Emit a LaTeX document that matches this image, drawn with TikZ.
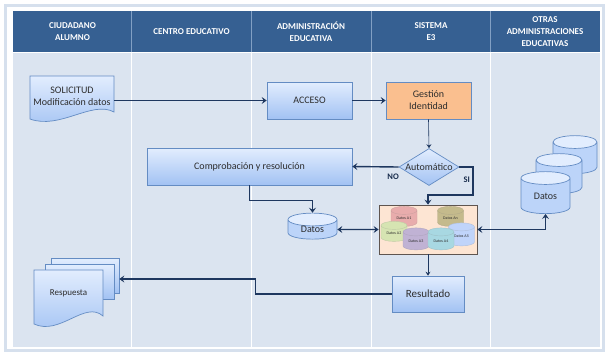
\documentclass[tikz,border=0pt]{standalone}
\usepackage{fontspec}
\setmainfont{Carlito}
\usetikzlibrary{shapes.geometric,arrows.meta}
\definecolor{headblue}{RGB}{54,96,146}
\definecolor{headline}{RGB}{130,160,196}
\definecolor{lanebg}{RGB}{219,228,240}
\definecolor{framecol}{RGB}{214,224,237}
\definecolor{lineblue}{RGB}{30,55,95}
\definecolor{edgeblue}{RGB}{100,140,195}
\definecolor{boxtop}{RGB}{226,237,254}
\definecolor{boxbot}{RGB}{162,194,243}
\definecolor{cylbody}{RGB}{188,212,249}
\definecolor{gestorange}{RGB}{250,191,143}
\definecolor{peach}{RGB}{253,229,211}
\definecolor{dbedge}{RGB}{95,85,80}
\definecolor{txtgray}{RGB}{45,45,45}
\definecolor{dbpink}{RGB}{232,172,172}
\definecolor{dbkhaki}{RGB}{196,186,140}
\definecolor{dbgreen}{RGB}{214,228,178}
\definecolor{dblila}{RGB}{192,178,212}
\definecolor{dbcyan}{RGB}{168,216,226}
\definecolor{dbblue}{RGB}{192,212,250}

\begin{document}
\begin{tikzpicture}[x=1pt,y=-1pt,
	>={Stealth[length=5pt,width=7pt,inset=2pt]},
	proc/.style={draw=edgeblue, line width=0.7pt, top color=boxtop, bottom color=boxbot, text=txtgray, align=center, font=\fontsize{10}{12}\selectfont, inner sep=0pt},
	doc/.style={draw=edgeblue, line width=0.7pt, top color=boxtop, bottom color=boxbot},
	txt/.style={text=txtgray, align=center, font=\fontsize{10}{12}\selectfont, inner sep=0pt},
	headtxt/.style={text=white, align=center, font=\fontsize{9}{12}\selectfont\bfseries},
	store/.style={cylinder, shape border rotate=90, aspect=0.55, draw=edgeblue, line width=0.7pt, cylinder uses custom fill, cylinder body fill=cylbody, cylinder end fill=boxtop, text=txtgray, font=\fontsize{10}{12}\selectfont, inner sep=0pt},
	minidb/.style={cylinder, shape border rotate=90, aspect=0.55, minimum width=26pt, minimum height=20pt, inner sep=0pt, draw=#1!75!gray, fill=#1, text=txtgray, font=\fontsize{4}{5}\selectfont},
	link/.style={draw=lineblue, line width=1.4pt, ->},
	thinlink/.style={draw=lineblue, line width=0.6pt, -{Stealth[length=4pt,width=5pt,inset=1.5pt]}},
	lbl/.style={text=lineblue!80!black, font=\fontsize{8.5}{10}\selectfont\bfseries}
]
	% marco y calles
	\fill[white] (0,0) rectangle (607,354);
	\draw[framecol, line width=3pt] (5.5,5.5) rectangle (603,350.5);
	\fill[headblue] (13,11) rectangle (600,52);
	\fill[lanebg] (13,52) rectangle (600,347);
	\draw[white, line width=1pt] (13,52.5) -- (600,52.5);
	\foreach \x in {131.5,251,371,490.5} {
		\draw[headline, line width=0.8pt] (\x,11) -- (\x,52);
		\draw[white, line width=1pt] (\x,53) -- (\x,347);
	}

	\node[headtxt] (h1) at (72.5,31.5) {CIUDADANO\\ALUMNO};
	\node[headtxt] (h2) at (191.5,31.5) {CENTRO EDUCATIVO};
	\node[headtxt] (h3) at (311,31.5) {ADMINISTRACIÓN\\EDUCATIVA};
	\node[headtxt] (h4) at (431,31.5) {SISTEMA\\E3};
	\node[headtxt] (h5) at (545,32) {OTRAS\\ADMINISTRACIONES\\EDUCATIVAS};

	% solicitud
	\draw[doc] (30,76) -- (114,76) -- (114,112) .. controls (92,100) and (60,130) .. (30,119) -- cycle;
	\node[txt, minimum width=84pt, minimum height=36pt] (sol) at (72,96) {SOLICITUD\\Modificación datos};

	\node[proc, minimum width=85pt, minimum height=37pt] (acc) at (309.5,100.5) {ACCESO};
	\node[proc, fill=gestorange, top color=gestorange, bottom color=gestorange, minimum width=85pt, minimum height=37pt] (gest) at (428.5,100.5) {Gestión\\Identidad};
	\node[proc, diamond, aspect=1.6, minimum width=60pt, minimum height=37pt] (auto) at (429,167) {Automático};
	\node[proc, minimum width=205pt, minimum height=37pt] (comp) at (249.5,166.5) {Comprobación y resolución};

	\node[store, minimum width=49pt, minimum height=25pt] (datos) at (312.5,229.5) {Datos};

	% almacen del sistema
	\node[draw=dbedge, line width=0.8pt, fill=peach, minimum width=98pt, minimum height=49pt] (dbbox) at (428,229.5) {};
	\node[minidb=dbpink] (a1) at (404,218.5) {Datos A1};
	\node[minidb=dbkhaki] (an) at (450.5,218.5) {Datos An};
	\node[minidb=dbgreen] (a2) at (394,233.5) {Datos A2};
	\node[minidb=dbblue, minimum height=23pt] (a5) at (461.5,236.5) {Datos A5};
	\node[minidb=dblila, minimum height=22pt] (a3) at (416,241) {Datos A3};
	\node[minidb=dbcyan, minimum height=22pt] (a4) at (441,241) {Datos A4};

	\node[proc, minimum width=72pt, minimum height=36pt, font=\fontsize{11}{13}\selectfont] (res) at (428,294) {Resultado};

	% otras administraciones
	\node[store, minimum width=44pt, minimum height=38pt] (dat3) at (575,158) {\phantom{Datos}};
	\node[store, minimum width=46pt, minimum height=40pt] (dat2) at (559,177) {\phantom{Datos}};
	\node[store, minimum width=49pt, minimum height=42pt] (dat1) at (545.5,196) {\raisebox{-3pt}{Datos}};

	% respuesta
	\node[proc, minimum width=68pt, minimum height=35pt] (resp3) at (85,275.5) {};
	\node[proc, minimum width=69pt, minimum height=35pt] (resp2) at (79.5,281.5) {};
	\draw[doc] (34,270) -- (103,270) -- (103,316) .. controls (85,300) and (60,336) .. (34,324) -- cycle;
	\node[txt, font=\fontsize{9}{11}\selectfont, minimum width=69pt, minimum height=40pt] (resp) at (68.5,293) {Respuesta};

	% flujo
	\draw[link] (sol.east |- acc.west) -- (acc.west);
	\draw[link] (acc.east) -- (gest.west);
	\draw[thinlink] (gest.south) -- (auto.north);
	\draw[link] (auto.west) -- node[lbl, pos=0.12, below=3pt] {NO} (comp.east);
	\coordinate (sibend) at (473,195);
	\draw[link] (auto.east) -| node[lbl, pos=0.72, left=-1pt] {SI} (sibend) -| (dbbox.north);
	\draw[link] (comp.south) -- ++(0,15) -| (datos.north);
	\draw[link, <->] (datos.east) -- (dbbox.west);
	\draw[link, <->] (dbbox.east) -| (dat1.south);
	\draw[thinlink] (dbbox.south) -- (res.north);
	\draw[link] (res.west) -- ++(-136,0) |- ([yshift=-3.5pt]resp3.east);
\end{tikzpicture}
\end{document}
